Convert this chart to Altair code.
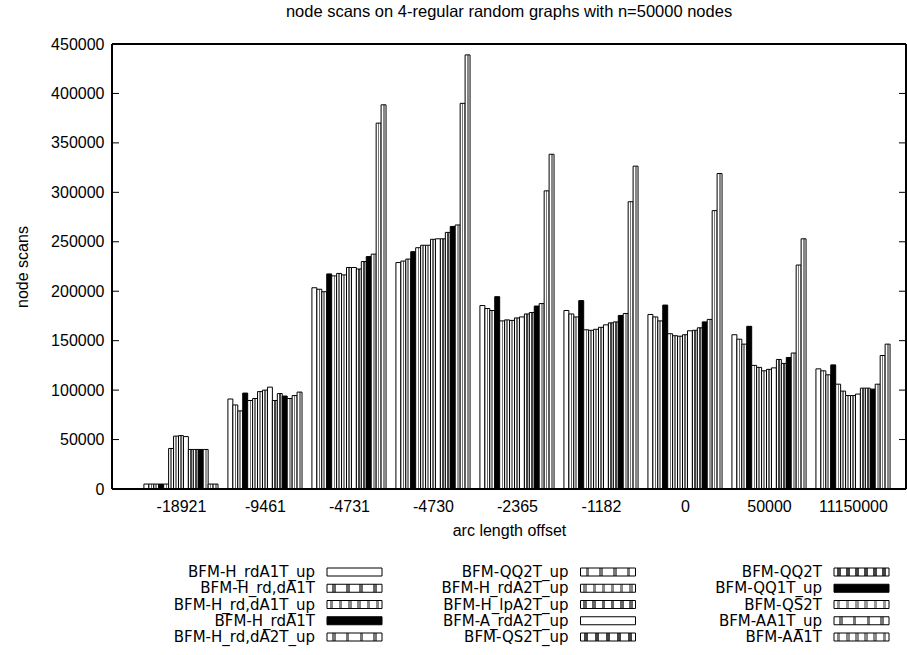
import altair as alt

# Group labels along the x axis (arc length offset)
groups = ["-18921", "-9461", "-4731", "-4730", "-2365", "-1182", "0", "50000", "11150000"]

# Algorithm variants, in plotting order within each group
series = [
    "BFM-H_rdA1T_up", "BFM-H_rd,dA1T", "BFM-H_rd,dA1T_up", "BFM-H_rdA1T", "BFM-H_rd,dA2T_up",
    "BFM-QQ2T_up", "BFM-H_rdA2T_up", "BFM-H_lpA2T_up", "BFM-A_rdA2T_up", "BFM-QS2T_up",
    "BFM-QQ2T", "BFM-QQ1T_up", "BFM-QS2T", "BFM-AA1T_up", "BFM-AA1T",
]

# Node scans per variant, one value per group
h_rda1t_up = [5000, 91000, 203500, 229000, 185500, 180500, 176500, 156000, 121500]
h_rd_da1t = [5000, 85000, 202000, 230500, 182500, 177000, 174000, 151500, 119500]
h_rd_da1t_up = [5000, 79000, 199500, 232500, 180500, 174000, 170000, 146500, 115500]
h_rda1t = [5000, 97000, 217500, 240000, 194500, 190500, 186000, 164500, 125500]
h_rd_da2t_up = [5000, 89500, 215500, 244000, 170000, 161000, 157000, 125000, 106000]
qq2t_up = [41000, 91500, 218000, 246500, 171000, 160500, 155000, 123000, 99000]
h_rda2t_up = [53500, 98500, 216500, 246500, 170500, 161500, 154500, 119500, 94500]
h_lpa2t_up = [54000, 100000, 224000, 252500, 173000, 163500, 156000, 121000, 94500]
a_rda2t_up = [53000, 103000, 224000, 253000, 174000, 166000, 160000, 122500, 96000]
qs2t_up = [40000, 89500, 222500, 253000, 177000, 168000, 160500, 131000, 102000]
qq2t = [40000, 96500, 230000, 259500, 178500, 169000, 163000, 127000, 102000]
qq1t_up = [40000, 94000, 235000, 265500, 185000, 175500, 169000, 133000, 101000]
qs2t = [40000, 91500, 237500, 267000, 187500, 177500, 171500, 137500, 106000]
aa1t_up = [5000, 94500, 370000, 390000, 301500, 290500, 281500, 226500, 135000]
aa1t = [5000, 98000, 388500, 439000, 338500, 326500, 319000, 253000, 146500]

series_values = [
    h_rda1t_up, h_rd_da1t, h_rd_da1t_up, h_rda1t, h_rd_da2t_up,
    qq2t_up, h_rda2t_up, h_lpa2t_up, a_rda2t_up, qs2t_up,
    qq2t, qq1t_up, qs2t, aa1t_up, aa1t,
]

# Fill style per variant: "white", "black", or (line colour, line share, key repeats)
fill_styles = [
    "white", ("#666666", 0.30, 4), ("#888888", 0.35, 6), "black", ("#777777", 0.25, 4),
    ("#777777", 0.25, 4), ("#888888", 0.35, 6), ("#666666", 0.40, 6), "white", ("#444444", 0.45, 5),
    ("#444444", 0.45, 6), "black", ("#999999", 0.35, 6), ("#777777", 0.25, 4), ("#888888", 0.40, 6),
]

y_ticks = list(range(0, 450001, 50000))


def hatch(style, in_key):
    """Fill for one variant: plain colour or a striped linear gradient."""
    if style == "white":
        return "#ffffff"
    if style == "black":
        return "#000000"
    color, share, key_reps = style
    reps = key_reps if in_key else 1
    stops = [{"offset": 0, "color": "#ffffff"}]
    step = 1.0 / reps
    for k in range(reps):
        a = k * step + step * (0.5 - share / 2)
        b = k * step + step * (0.5 + share / 2)
        stops += [
            {"offset": a, "color": "#ffffff"},
            {"offset": a, "color": color},
            {"offset": b, "color": color},
            {"offset": b, "color": "#ffffff"},
        ]
    stops.append({"offset": 1, "color": "#ffffff"})
    return {"gradient": "linear", "x1": 0, "y1": 0, "x2": 1, "y2": 0, "stops": stops}


bar_rows = []
for si, name in enumerate(series):
    for gi, v in enumerate(series_values[si]):
        bar_rows.append({"series": name, "s": si, "g": gi, "v": v,
                         "paint": hatch(fill_styles[si], False)})

legend_rows = [
    {"series": name, "s": i, "col": i // 5, "row": i % 5, "paint": hatch(fill_styles[i], True)}
    for i, name in enumerate(series)
]
tick_rows = [{"t": t} for t in y_ticks]

W, H = 794, 445
NS = len(series)
SLOT = NS + 2  # gap of two bar widths between groups
FONT = "Liberation Sans"
KEY_FONT = "DejaVu Sans"
FS = 16
KEY_FS = 15

label_expr = "[" + ",".join(f"'{g}'" for g in groups) + "][datum.value]"

y_scale = alt.Scale(domain=[0, 450000], nice=False, zero=True)

bars = (
    alt.Chart(alt.Data(values=bar_rows))
    .transform_calculate(
        x0=f"datum.g + (datum.s - {NS / 2}) / {SLOT}",
        x1=f"datum.g + (datum.s + 1 - {NS / 2}) / {SLOT}",
    )
    .mark_rect(stroke="black", strokeWidth=1)
    .encode(
        x=alt.X(
            "x0:Q",
            scale=alt.Scale(domain=[-0.821, 8.631], nice=False, zero=False),
            axis=alt.Axis(
                values=list(range(len(groups))),
                labelExpr=label_expr,
                title="arc length offset",
                grid=False,
                ticks=False,
                domain=False,
                labelPadding=9,
                titlePadding=8,
                labelFont=FONT,
                titleFont=FONT,
                labelFontSize=FS,
                titleFontSize=FS,
                titleFontWeight="normal",
                labelColor="black",
                titleColor="black",
            ),
        ),
        x2="x1:Q",
        y=alt.Y(
            "v:Q",
            scale=y_scale,
            axis=alt.Axis(
                values=y_ticks,
                format="d",
                title="node scans",
                grid=False,
                ticks=False,
                domain=False,
                labelPadding=8,
                titlePadding=20,
                labelFont=FONT,
                titleFont=FONT,
                labelFontSize=FS,
                titleFontSize=FS,
                titleFontWeight="normal",
                labelColor="black",
                titleColor="black",
            ),
        ),
        y2=alt.datum(0),
        fill=alt.Fill("paint:N", scale=None),
    )
)

# Plot border
border = alt.Chart(alt.Data(values=tick_rows)).mark_rect(
    fill=None, stroke="black", strokeWidth=1
).encode(x=alt.value(0), x2=alt.value(W), y=alt.value(0), y2=alt.value(H))

# Inward tick marks on the left and right borders
left_ticks = alt.Chart(alt.Data(values=tick_rows)).mark_rule(color="black", strokeWidth=1).encode(
    y=alt.Y("t:Q", scale=y_scale, axis=None),
    x=alt.value(0),
    x2=alt.value(7),
)
right_ticks = alt.Chart(alt.Data(values=tick_rows)).mark_rule(color="black", strokeWidth=1).encode(
    y=alt.Y("t:Q", scale=y_scale, axis=None),
    x=alt.value(W - 7),
    x2=alt.value(W),
)

# Key below the plot: label on the left, swatch on the right
leg_x = alt.Scale(domain=[0, 2], range=[203, 710])
leg_y = alt.Scale(domain=[0, 4], range=[528, 593])

legend_text = alt.Chart(alt.Data(values=legend_rows)).mark_text(
    align="right", baseline="middle", font=KEY_FONT, fontSize=KEY_FS, color="black"
).encode(
    x=alt.X("col:Q", scale=leg_x, axis=None),
    y=alt.Y("row:Q", scale=leg_y, axis=None),
    text="series:N",
)
legend_swatch = alt.Chart(alt.Data(values=legend_rows)).mark_rect(
    stroke="black", strokeWidth=1, xOffset=12, x2Offset=67, yOffset=-4, y2Offset=4
).encode(
    x=alt.X("col:Q", scale=leg_x, axis=None),
    x2="col:Q",
    y=alt.Y("row:Q", scale=leg_y, axis=None),
    y2="row:Q",
    fill=alt.Fill("paint:N", scale=None),
)

chart = (
    alt.layer(bars, border, left_ticks, right_ticks, legend_text, legend_swatch)
    .resolve_scale(x="independent", y="independent")
    .properties(
        width=W,
        height=H,
        autosize=alt.AutoSizeParams(type="none"),
        padding={"left": 112, "top": 44, "right": 1, "bottom": 166},
        title=alt.TitleParams(
            "node scans on 4-regular random graphs with n=50000 nodes",
            font=FONT,
            fontSize=16.5,
            fontWeight="normal",
            color="black",
            frame="group",
            offset=16,
        ),
    )
    .configure_view(stroke=None)
    .configure(background="white")
)

chart.save("out.html", embed_options={"renderer": "svg", "actions": False})
